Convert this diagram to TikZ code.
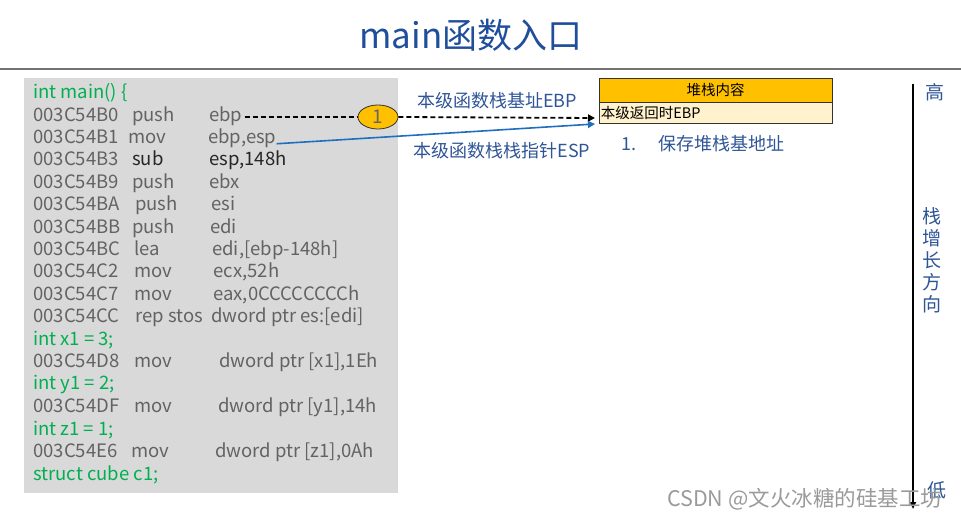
\documentclass[tikz,border=0pt]{standalone}
\usepackage{fontspec}
\setmainfont{Noto Sans CJK SC}
\usetikzlibrary{arrows.meta,shapes.geometric}
\definecolor{titleblue}{HTML}{1F4E9A}
\definecolor{lblblue}{HTML}{2F5597}
\definecolor{arrblue}{HTML}{1F6FC0}
\definecolor{codegreen}{HTML}{00B050}
\definecolor{codegray}{HTML}{636363}
\definecolor{boxgray}{HTML}{D9D9D9}
\definecolor{gold}{HTML}{FFC000}
\definecolor{lightgold}{HTML}{FFF2CC}
\definecolor{wmgray}{HTML}{9A9A9A}
\tikzset{
  code/.style={anchor=base west,inner sep=0pt,font=\fontsize{18.5}{20}\selectfont,text=codegray},
  src/.style={code,text=codegreen},
  lbl/.style={inner sep=0pt,font=\fontsize{18}{20}\selectfont,text=lblblue},
  side/.style={lbl,font=\fontsize{19}{20}\selectfont},
  cell/.style={draw=black!80,line width=0.8pt,minimum width=233pt,inner sep=0pt,font=\fontsize{14.5}{16}\selectfont}
}
\begin{document}
\begin{tikzpicture}[x=1pt,y=-1pt]
\useasboundingbox (0,0) rectangle (961,518);
% title
\node[inner sep=0pt,font=\fontsize{35}{38}\selectfont,text=titleblue] (title) at (471,35) {main函数入口};
\draw[line width=1.2pt,draw=black!55] (0,69) -- (961,69);
% code box
\fill[boxgray] (24,78) rectangle (398,493);
\node[src] (l1) at (33,99) {int main() \{};
\node[code] (a2) at (33,122) {003C54B0}; \node[code] (m2) at (132,122) {push}; \node[code] (ebp) at (209,122) {ebp};
\node[code] (a3) at (33,144) {003C54B1}; \node[code] (m3) at (128,144) {mov}; \node[code] (esp) at (208,144) {ebp,esp};
\node[code] (a4) at (33,166) {003C54B3}; \node[code,text=black!85] (m4) at (132,166) {sub}; \node[code,text=black!85] (o4) at (209,166) {esp,148h};
\node[code] (a5) at (33,189) {003C54B9}; \node[code] (m5) at (132,189) {push}; \node[code] (o5) at (209,189) {ebx};
\node[code] (a6) at (33,211) {003C54BA}; \node[code] (m6) at (135,211) {push}; \node[code] (o6) at (211,211) {esi};
\node[code] (a7) at (33,234) {003C54BB}; \node[code] (m7) at (132,234) {push}; \node[code] (o7) at (210,234) {edi};
\node[code] (a8) at (33,256) {003C54BC}; \node[code] (m8) at (134,256) {lea}; \node[code] (o8) at (212,256) {edi,[ebp-148h]};
\node[code] (a9) at (33,278) {003C54C2}; \node[code] (m9) at (134,278) {mov}; \node[code] (o9) at (213,278) {ecx,52h};
\node[code] (a10) at (33,301) {003C54C7}; \node[code] (m10) at (134,301) {mov}; \node[code] (o10) at (213,301) {eax,0CCCCCCCCh};
\node[code] (a11) at (33,323) {003C54CC}; \node[code] (m11) at (135,323) {rep stos}; \node[code] (o11) at (211,323) {dword ptr es:[edi]};
\node[src] (l12) at (33,346) {int x1 = 3;};
\node[code] (a13) at (33,368) {003C54D8}; \node[code] (m13) at (134,368) {mov}; \node[code] (o13) at (219,368) {dword ptr [x1],1Eh};
\node[src] (l14) at (33,390) {int y1 = 2;};
\node[code] (a15) at (33,412) {003C54DF}; \node[code] (m15) at (134,412) {mov}; \node[code] (o15) at (218,412) {dword ptr [y1],14h};
\node[src] (l16) at (33,435) {int z1 = 1;};
\node[code] (a17) at (33,457) {003C54E6}; \node[code] (m17) at (131,457) {mov}; \node[code] (o17) at (215,457) {dword ptr [z1],0Ah};
\node[src] (l18) at (33,480) {struct cube c1;};
% stack table
\node[cell,fill=gold,minimum height=24pt] (hdr) at (715.5,90) {堆栈内容};
\node[cell,fill=lightgold,minimum height=21pt,anchor=north] (row) at (hdr.south) {};
\node[anchor=west,inner sep=0pt,font=\fontsize{14.5}{16}\selectfont] (rowtxt) at ([xshift=2pt]row.west) {本级返回时EBP};
\coordinate (tgtA) at (595,118);
\coordinate (tgtB) at (595,124);
% ellipse marker
\node[ellipse,fill=gold,draw=black!80,line width=0.8pt,minimum width=40pt,minimum height=24pt,inner sep=0pt,font=\fontsize{19}{20}\selectfont,text=black!60] (one) at (378,117) {1};
% arrows
\draw[dash pattern=on 5pt off 3pt,line width=1.8pt] ([xshift=2pt]ebp.east|-one.west) -- (one.west);
\draw[dash pattern=on 5pt off 3pt,line width=1.8pt,-{Triangle[length=7pt,width=7pt]}] (one.east) -- (tgtA);
\draw[line width=1.6pt,draw=arrblue,-{Triangle[length=7pt,width=7pt]}] ([yshift=-5pt]esp.east) -- (tgtB);
% labels
\node[lbl] (ebplbl) at (497,101) {本级函数栈基址EBP};
\node[lbl] (esplbl) at (502,151) {本级函数栈栈指针ESP};
\node[lbl,anchor=west] (step1) at (621,144) {1.\hspace{22pt}保存堆栈基地址};
% vertical arrow
\coordinate (vtop) at (913,84);
\coordinate (vbot) at (913,509);
\draw[line width=2pt,-{Triangle[length=7pt,width=6pt]}] (vtop) -- (vbot);
\node[side] (hi) at (935,92) {高};
\node[side,align=center] (dir) at (932,260) {栈\\[2pt]增\\[2pt]长\\[2pt]方\\[2pt]向};
\node[side] (lo) at (937,490) {低};
% watermark
\node[anchor=west,inner sep=0pt,font=\fontsize{21.5}{23}\selectfont,text=wmgray] (wm) at (667,499) {CSDN @文火冰糖的硅基工坊};
\end{tikzpicture}
\end{document}
